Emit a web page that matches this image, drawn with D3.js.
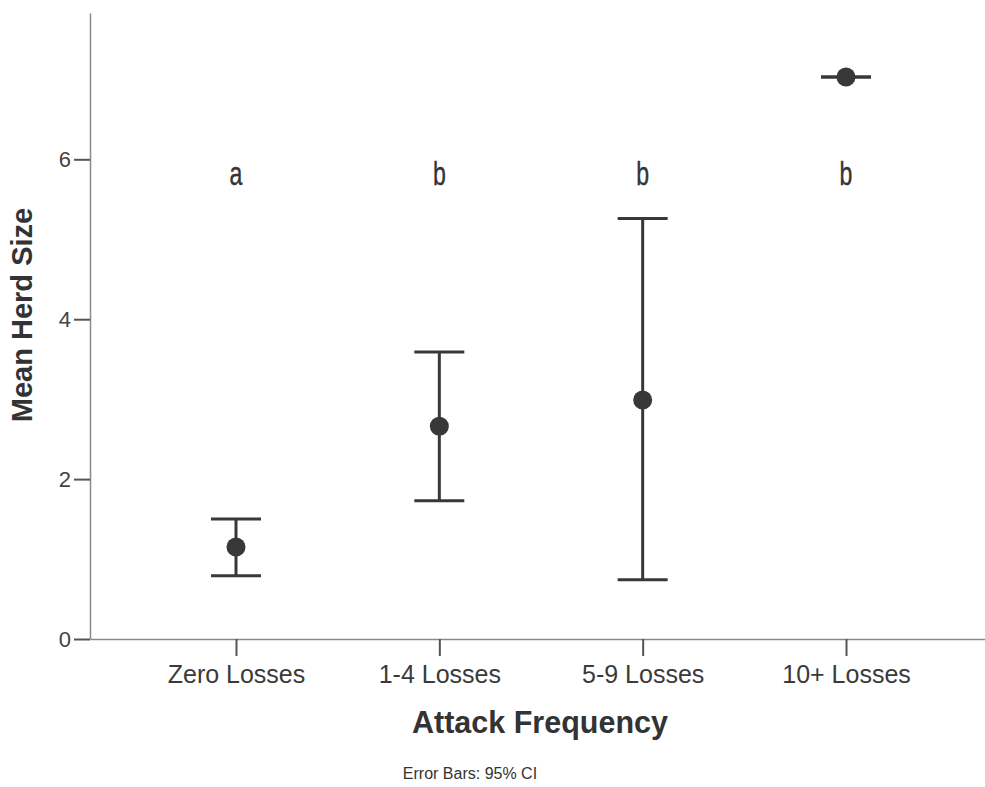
<!DOCTYPE html>
<html>
<head>
<meta charset="utf-8">
<script src="https://cdn.jsdelivr.net/npm/d3@7"></script>
<style>
  body { margin: 0; background: #fff; }
  text { font-family: "Liberation Sans", Arial, sans-serif; }
</style>
</head>
<body>
<svg id="chart" width="985" height="787" viewBox="0 0 985 787"></svg>
<script>
const categories = ["Zero Losses", "1-4 Losses", "5-9 Losses", "10+ Losses"];
const means = [1.15, 2.66, 2.99, 7.03];
const ciLow = [0.79, 1.73, 0.74, 7.03];
const ciHigh = [1.50, 3.59, 5.26, 7.03];
const groupLetters = ["a", "b", "b", "b"];
const yTicks = [0, 2, 4, 6];

const svg = d3.select("#chart");
const margin = { left: 90, right: 0, top: 13, bottom: 148 };
const height = 787;

const x = d3
  .scalePoint()
  .domain(categories)
  .range([margin.left, 992])
  .padding(0.718);

const y = d3
  .scaleLinear()
  .domain([0, 7.83])
  .range([height - margin.bottom, margin.top]);

const axisColor = "#8a8a8a";
const inkColor = "#383838";

// y axis
const yAxis = svg
  .append("g")
  .attr("transform", `translate(${margin.left},0)`)
  .call(d3.axisLeft(y).tickValues(yTicks).tickSize(16).tickPadding(3).tickSizeOuter(0));
yAxis.select(".domain").attr("stroke", axisColor).attr("stroke-width", 1.5);
yAxis.selectAll(".tick line").attr("stroke", "#555").attr("stroke-width", 2);
yAxis
  .selectAll(".tick text")
  .attr("fill", "#444")
  .attr("font-size", 22);

// x axis
const xAxis = svg
  .append("g")
  .attr("transform", `translate(0,${y(0)})`)
  .call(d3.axisBottom(x).tickSize(17).tickPadding(9).tickSizeOuter(0));
xAxis.select(".domain").attr("stroke", axisColor).attr("stroke-width", 1.5);
xAxis.selectAll(".tick line").attr("stroke", "#555").attr("stroke-width", 2);
xAxis
  .selectAll(".tick text")
  .attr("fill", "#3a3a3a")
  .attr("font-size", 25);

// axis titles
svg
  .append("text")
  .attr("x", 540)
  .attr("y", 733)
  .attr("text-anchor", "middle")
  .attr("font-size", 30.5)
  .attr("font-weight", "bold")
  .attr("fill", "#333")
  .text("Attack Frequency");

svg
  .append("text")
  .attr("transform", "translate(32,315) rotate(-90)")
  .attr("text-anchor", "middle")
  .attr("font-size", 29)
  .attr("font-weight", "bold")
  .attr("fill", "#333")
  .text("Mean Herd Size");

svg
  .append("text")
  .attr("x", 470)
  .attr("y", 779)
  .attr("text-anchor", "middle")
  .attr("font-size", 16)
  .attr("fill", "#333")
  .text("Error Bars: 95% CI");

// error bars
const rows = categories.map((c, i) => ({
  cat: c,
  mean: means[i],
  lo: ciLow[i],
  hi: ciHigh[i],
  letter: groupLetters[i],
}));

const capHalf = 25;
const bars = svg.append("g").attr("class", "bars");

bars
  .selectAll("line.stem")
  .data(rows)
  .join("line")
  .attr("class", "stem")
  .attr("x1", (d) => x(d.cat))
  .attr("x2", (d) => x(d.cat))
  .attr("y1", (d) => y(d.lo))
  .attr("y2", (d) => y(d.hi))
  .attr("stroke", inkColor)
  .attr("stroke-width", 3);

bars
  .selectAll("line.cap-hi")
  .data(rows)
  .join("line")
  .attr("class", "cap-hi")
  .attr("x1", (d) => x(d.cat) - capHalf)
  .attr("x2", (d) => x(d.cat) + capHalf)
  .attr("y1", (d) => y(d.hi))
  .attr("y2", (d) => y(d.hi))
  .attr("stroke", inkColor)
  .attr("stroke-width", 3);

bars
  .selectAll("line.cap-lo")
  .data(rows)
  .join("line")
  .attr("class", "cap-lo")
  .attr("x1", (d) => x(d.cat) - capHalf)
  .attr("x2", (d) => x(d.cat) + capHalf)
  .attr("y1", (d) => y(d.lo))
  .attr("y2", (d) => y(d.lo))
  .attr("stroke", inkColor)
  .attr("stroke-width", 3);

bars
  .selectAll("circle")
  .data(rows)
  .join("circle")
  .attr("cx", (d) => x(d.cat))
  .attr("cy", (d) => y(d.mean))
  .attr("r", 9.5)
  .attr("fill", inkColor);

// significance letters (narrow face, squeezed horizontally)
svg
  .append("g")
  .selectAll("text")
  .data(rows)
  .join("text")
  .attr("transform", (d) => `translate(${x(d.cat)},${y(5.68)}) scale(0.68,1)`)
  .attr("text-anchor", "middle")
  .attr("font-size", 34)
  .attr("fill", "#333")
  .attr("stroke", "#333")
  .attr("stroke-width", 0.4)
  .text((d) => d.letter);
</script>
</body>
</html>
